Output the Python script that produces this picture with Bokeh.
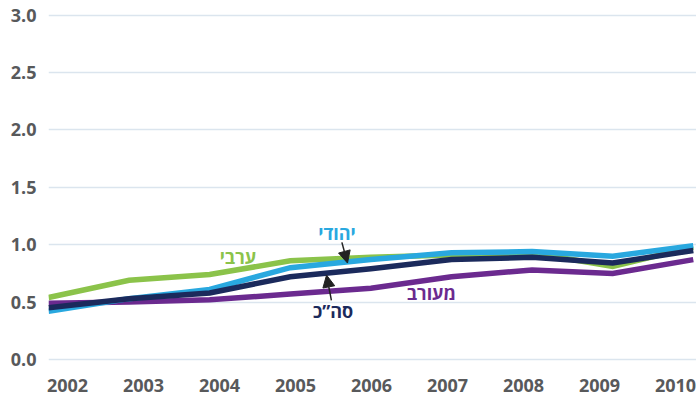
from bokeh.plotting import figure
from bokeh.models import (Range1d, LinearAxis, FixedTicker, NumeralTickFormatter,
                          Arrow, NormalHead, Label)
from bokeh.embed import file_html
from bokeh.resources import INLINE

years = [2002, 2003, 2004, 2005, 2006, 2007, 2008, 2009, 2010]
arab = [0.54, 0.69, 0.74, 0.86, 0.89, 0.91, 0.93, 0.81, 0.98]
jewish = [0.42, 0.53, 0.61, 0.80, 0.87, 0.93, 0.94, 0.90, 0.99]
total = [0.45, 0.53, 0.58, 0.72, 0.79, 0.87, 0.89, 0.84, 0.95]
mixed = [0.49, 0.50, 0.52, 0.57, 0.62, 0.72, 0.78, 0.75, 0.87]
y_ticks = [0.0, 0.5, 1.0, 1.5, 2.0, 2.5, 3.0]

series_names = ["ערבי", "יהודי", "סה”כ", "מעורב"]
colors = ["#8bc34a", "#29a8df", "#1b2a5c", "#6b2a8f"]

FONT = "Open Sans"
TICK_COLOR = "#58595b"

p = figure(width=696, height=406, output_backend="svg", toolbar_location=None,
           x_range=Range1d(2002, 2010.04), y_range=Range1d(-0.061, 3.057),
           x_axis_location=None, min_border_left=48, min_border_right=0,
           min_border_top=8, min_border_bottom=40)
p.outline_line_color = None
p.background_fill_color = "white"
p.border_fill_color = "white"

p.extra_x_ranges = {"labels": Range1d(2001.75, 2010.276)}
xa = LinearAxis(x_range_name="labels", ticker=FixedTicker(ticks=years))
xa.axis_line_color = None
xa.major_tick_line_color = None
xa.minor_tick_line_color = None
xa.major_label_standoff = 6
xa.major_label_text_font = FONT
xa.major_label_text_font_style = "bold"
xa.major_label_text_font_size = "18px"
xa.major_label_text_color = TICK_COLOR
p.add_layout(xa, "below")

ya = p.yaxis[0]
ya.ticker = FixedTicker(ticks=y_ticks)
ya.formatter = NumeralTickFormatter(format="0.0")
ya.axis_line_color = None
ya.major_tick_line_color = None
ya.minor_tick_line_color = None
ya.major_label_standoff = 6
ya.major_label_text_font = FONT
ya.major_label_text_font_style = "bold"
ya.major_label_text_font_size = "18px"
ya.major_label_text_color = TICK_COLOR

p.xgrid.visible = False
p.ygrid.ticker = FixedTicker(ticks=y_ticks)
p.ygrid.grid_line_color = "#dbe5ee"
p.ygrid.grid_line_width = 1.5

for vals, c in zip([mixed, arab, jewish, total], [colors[3], colors[0], colors[1], colors[2]]):
    p.line(years, vals, line_color=c, line_width=5.5, line_join="miter")

# series labels (data coordinates)
label_x = [2004.35, 2005.58, 2005.53, 2006.75]
label_y = [0.895, 1.10, 0.42, 0.575]
for name, c, lx, ly in zip(series_names, colors, label_x, label_y):
    p.add_layout(Label(x=lx, y=ly, text=name, text_color=c, text_font=FONT,
                       text_font_style="bold", text_font_size="18px",
                       text_align="center", text_baseline="middle"))

# arrows
arrow_start = [(2005.64, 1.02), (2005.51, 0.515)]
arrow_end = [(2005.71, 0.84), (2005.45, 0.735)]
for (sx, sy), (ex, ey) in zip(arrow_start, arrow_end):
    p.add_layout(Arrow(x_start=sx, y_start=sy, x_end=ex, y_end=ey,
                       line_color="#222222", line_width=1.5,
                       end=NormalHead(size=12, fill_color="#222222",
                                      line_color="#222222", line_width=1)))

open("out.html", "w").write(file_html(p, INLINE))
